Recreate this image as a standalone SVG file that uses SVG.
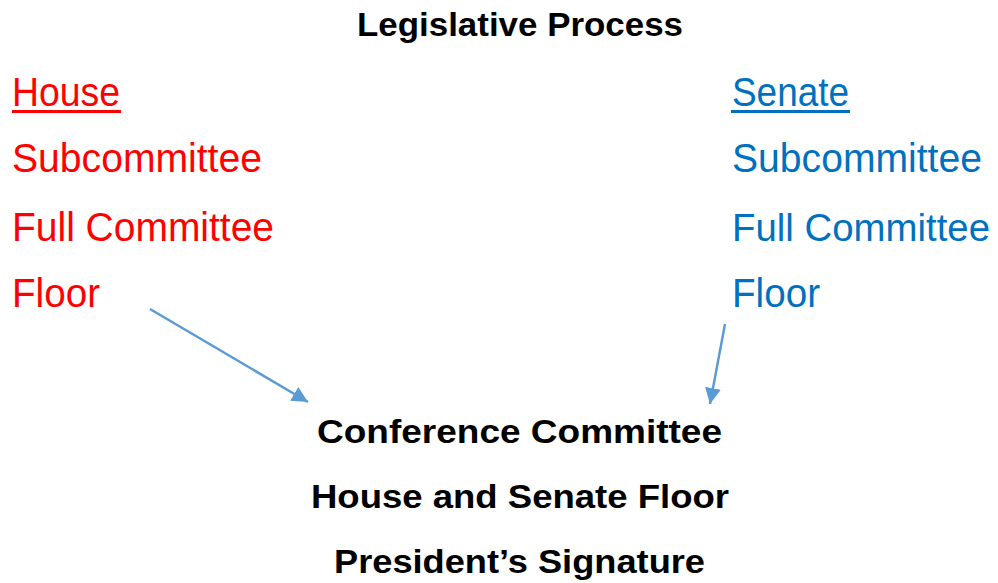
<svg xmlns="http://www.w3.org/2000/svg" width="998" height="583" viewBox="0 0 998 583">
<defs>
<style>
.t{font-family:"Liberation Sans",Arial,sans-serif}
.b{font-weight:bold;font-size:34px;fill:#000}
.h{font-size:40px;fill:#FF0000}
.s{font-size:40px;fill:#0070C0}
.c{stroke:#5B9BD5;stroke-width:2.5;fill:none}
</style>
<marker id="ah" markerUnits="userSpaceOnUse" markerWidth="18" markerHeight="16" refX="16" refY="8" orient="auto">
<path d="M0,0 L16,8 L0,16 Z" fill="#5B9BD5"/>
</marker>
</defs>
<rect width="998" height="583" fill="#fff"/>
<g id="title"><text class="t b" x="357" y="36" textLength="326" lengthAdjust="spacingAndGlyphs">Legislative Process</text></g>
<g id="house">
<text class="t h" x="12" y="106" textLength="108" lengthAdjust="spacingAndGlyphs">House</text>
<rect x="12" y="110" width="109" height="3" fill="#FF0000"/>
</g>
<g id="house-sub"><text class="t h" x="12" y="172" textLength="250" lengthAdjust="spacingAndGlyphs">Subcommittee</text></g>
<g id="house-full"><text class="t h" x="12" y="241" textLength="262" lengthAdjust="spacingAndGlyphs">Full Committee</text></g>
<g id="house-floor"><text class="t h" x="12" y="307" textLength="88" lengthAdjust="spacingAndGlyphs">Floor</text></g>
<g id="senate">
<text class="t s" x="732" y="106" textLength="117" lengthAdjust="spacingAndGlyphs">Senate</text>
<rect x="731" y="110" width="119" height="3" fill="#0070C0"/>
</g>
<g id="senate-sub"><text class="t s" x="732" y="172" textLength="250" lengthAdjust="spacingAndGlyphs">Subcommittee</text></g>
<g id="senate-full"><text class="t s" x="732" y="241" font-size="39" textLength="258" lengthAdjust="spacingAndGlyphs" style="font-size:39px">Full Committee</text></g>
<g id="senate-floor"><text class="t s" x="732" y="307" textLength="88" lengthAdjust="spacingAndGlyphs">Floor</text></g>
<g id="conference"><text class="t b" x="317" y="443" textLength="405" lengthAdjust="spacingAndGlyphs">Conference Committee</text></g>
<g id="both-floors"><text class="t b" x="311" y="508" textLength="418" lengthAdjust="spacingAndGlyphs">House and Senate Floor</text></g>
<g id="president"><text class="t b" x="334" y="573" textLength="371" lengthAdjust="spacingAndGlyphs">President’s Signature</text></g>
<g id="connectors">
<line class="c" x1="150" y1="309" x2="308" y2="402" marker-end="url(#ah)"/>
<line class="c" x1="725" y1="324" x2="710" y2="404" marker-end="url(#ah)"/>
</g>
</svg>
